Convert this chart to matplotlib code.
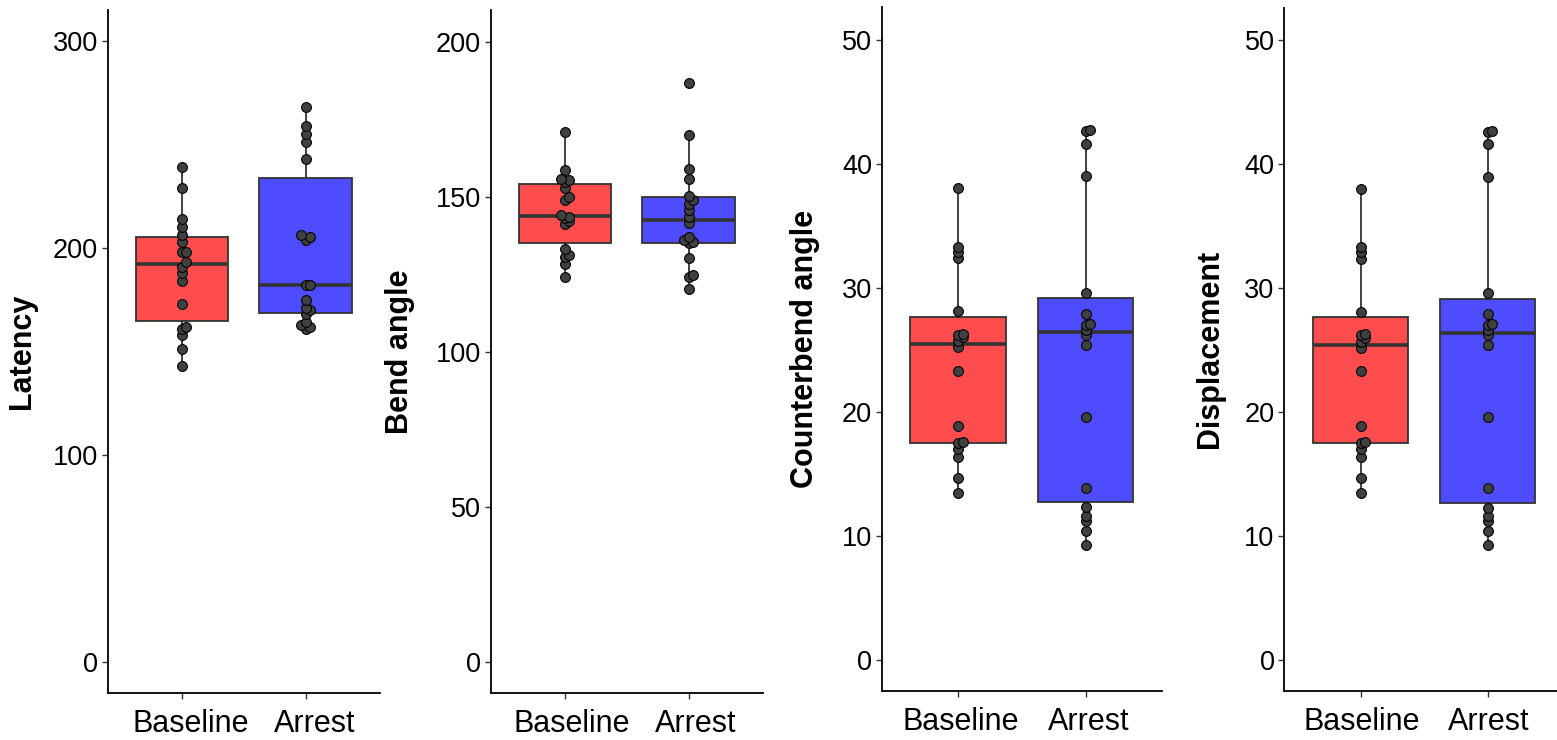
import matplotlib
matplotlib.use("Agg")
import matplotlib.pyplot as plt
import matplotlib.transforms as mtransforms
import numpy as np

plt.rcParams["font.family"] = ["Liberation Sans", "DejaVu Sans"]

groups = ["Baseline", "Arrest"]
box_colors = ["#ff4d4d", "#4d4dff"]

latency_baseline = [143, 151, 158, 161, 162, 173, 184, 188, 191, 193, 198, 198, 203, 206, 210, 214, 229, 239]
latency_arrest = [161, 162, 163, 164, 168, 170, 171, 175, 182, 182, 204, 205, 206, 243, 251, 255, 259, 268]

bend_baseline = [124.1, 128.4, 130.5, 131.2, 133.1, 141.1, 142.2, 143.0, 143.5, 144.1, 148.8, 149.9,
                 152.9, 154.7, 155.3, 155.8, 158.5, 171.0]
bend_arrest = [120.3, 124.1, 124.7, 130.4, 135.0, 135.4, 135.9, 137.0, 141.5, 143.5, 145.6, 147.8,
               149.0, 150.2, 155.6, 158.8, 170.0, 186.6]

counterbend_baseline = [13.5, 14.7, 16.4, 17.0, 17.5, 17.6, 18.9, 23.3, 25.2, 25.7, 26.0, 26.2,
                        26.3, 28.1, 32.4, 32.9, 33.3, 38.0]
counterbend_arrest = [9.3, 10.4, 11.2, 11.6, 12.3, 13.9, 19.6, 25.4, 26.2, 26.6, 27.0, 27.1,
                      27.9, 29.6, 39.0, 41.6, 42.6, 42.7]

displacement_baseline = [13.5, 14.7, 16.4, 17.0, 17.5, 17.6, 18.9, 23.3, 25.2, 25.7, 26.0, 26.2,
                         26.3, 28.1, 32.4, 32.9, 33.3, 38.0]
displacement_arrest = [9.3, 10.4, 11.2, 11.6, 12.3, 13.9, 19.6, 25.4, 26.2, 26.6, 27.0, 27.1,
                       27.9, 29.6, 39.0, 41.6, 42.6, 42.7]

# label, (baseline, arrest), y ticks, y limits, axes box in pixels (left, top, right, bottom),
# y-label gap, x tick label shift (px)
panels = [
    ("Latency", (latency_baseline, latency_arrest), [0, 100, 200, 300], (-14.7, 314.8),
     (107.7, 10, 380, 692.7), 71, 9),
    ("Bend angle", (bend_baseline, bend_arrest), [0, 50, 100, 150, 200], (-9.9, 210.2),
     (490.7, 10, 762.7, 692.7), 76, 7),
    ("Counterbend angle", (counterbend_baseline, counterbend_arrest), [0, 10, 20, 30, 40, 50], (-2.47, 52.6),
     (881.7, 7.3, 1162, 690.7), 62, 3),
    ("Displacement", (displacement_baseline, displacement_arrest), [0, 10, 20, 30, 40, 50], (-2.45, 52.6),
     (1284.3, 8, 1564, 690.7), 59, 1),
]

W, H = 1557, 740
fig = plt.figure(figsize=(W / 100, H / 100), dpi=100)
edge = "#333333"


def nudge(values, threshold):
    # small deterministic side-step for points that would sit on top of each other
    order = np.argsort(values)
    offsets = np.zeros(len(values))
    last, side = None, 1
    for i in order:
        if last is not None and abs(values[i] - last) < threshold:
            offsets[i] = 0.035 * side
            side = -side
        else:
            last = values[i]
            side = 1
    return offsets


for label, data, yticks, ylim, (left, top, right, bottom), gap, shift in panels:
    ax = fig.add_axes([left / W, 1 - bottom / H, (right - left) / W, (bottom - top) / H])
    bp = ax.boxplot(data, positions=[0, 1], widths=0.75, patch_artist=True, showfliers=False,
                    whis=1.5, zorder=2,
                    boxprops=dict(edgecolor=edge, linewidth=1.3),
                    whiskerprops=dict(color=edge, linewidth=1.3),
                    capprops=dict(linewidth=0),
                    medianprops=dict(color=edge, linewidth=2.6, solid_capstyle="butt"))
    for patch, color in zip(bp["boxes"], box_colors):
        patch.set_facecolor(color)
    span = ylim[1] - ylim[0]
    for pos, values in enumerate(data):
        values = np.asarray(values, dtype=float)
        ax.scatter(pos + nudge(values, 0.007 * span), values, s=50, color="#404040",
                   edgecolor="black", linewidth=0.8, zorder=3)
    ax.set_xlim(-0.6, 1.6)
    ax.set_ylim(*ylim)
    ax.set_yticks(yticks)
    ax.set_xticks([0, 1])
    ax.set_xticklabels(groups, fontsize=22)
    ax.tick_params(axis="y", labelsize=19.5, length=4, width=1, color=edge, pad=3)
    ax.tick_params(axis="x", length=4, width=1, color=edge, pad=8)
    # tick_params resets label transforms, so the shift goes on afterwards
    offset = mtransforms.ScaledTranslation(shift / 100, 0, fig.dpi_scale_trans)
    for tick in ax.xaxis.get_major_ticks():
        tick.label1.set_transform(tick.label1.get_transform() + offset)
    for side in ("top", "right"):
        ax.spines[side].set_visible(False)
    for side in ("left", "bottom"):
        ax.spines[side].set_linewidth(1.3)
    ax.set_ylabel(label, fontsize=22, fontweight="bold")
    ax.yaxis.set_label_coords(-gap / (right - left), 0.5)

fig.savefig("out.png", dpi=100, facecolor="white")
